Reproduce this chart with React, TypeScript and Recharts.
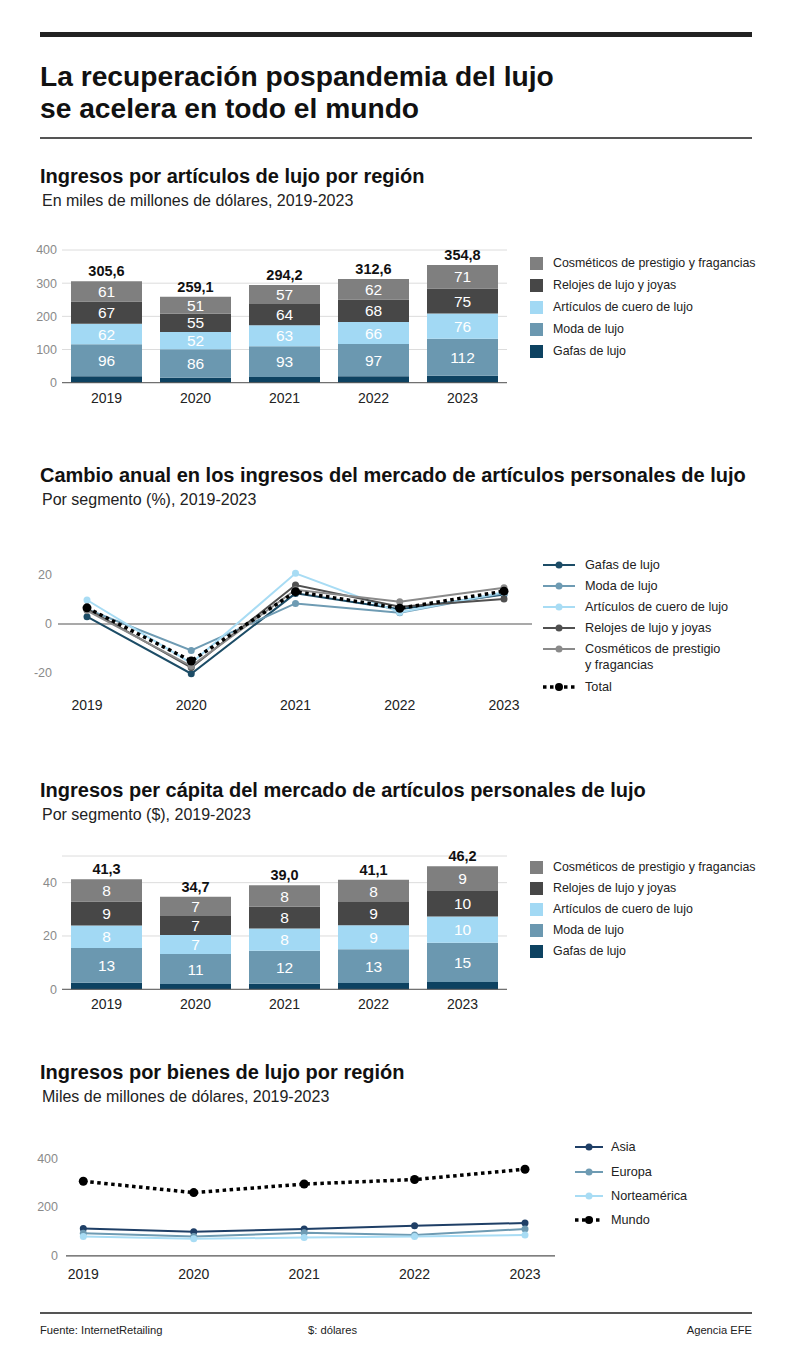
import React from 'react';
import { BarChart, Bar, XAxis, YAxis, CartesianGrid, LabelList, LineChart, Line, ReferenceLine } from 'recharts';

const FONT = "'Liberation Sans Narrow','Arial Narrow','Liberation Sans',Arial,sans-serif";

const years = ['2019', '2020', '2021', '2022', '2023'];

// Chart 1: revenue by segment (billions USD)
const rev1Gafas = [19.6, 15.1, 17.2, 19.6, 20.8];
const rev1Moda = [96, 86, 93, 97, 112];
const rev1Cuero = [62, 52, 63, 66, 76];
const rev1Relojes = [67, 55, 64, 68, 75];
const rev1Cosmeticos = [61, 51, 57, 62, 71];
const rev1Totals = [305.6, 259.1, 294.2, 312.6, 354.8];
const rev1Ticks = [0, 100, 200, 300, 400];

// Chart 2: annual change (%)
const chgGafas = [3, -20.3, 12.5, 6, 12];
const chgModa = [6, -10.8, 8.4, 4.6, 12.5];
const chgCuero = [9.8, -16, 20.7, 4.8, 13];
const chgRelojes = [6.2, -17.8, 15.9, 7, 10.2];
const chgCosmeticos = [5.5, -17.2, 14, 9.1, 14.8];
const chgTotal = [6.6, -15.1, 13.2, 6.4, 13.4];
const chgTicks = [-20, 0, 20];

// Chart 3: per capita revenue ($)
const pcGafas = [2.5, 2.0, 2.1, 2.4, 2.7];
const pcModa = [13.0, 11.2, 12.4, 12.6, 14.8];
const pcCuero = [8.4, 7.2, 8.3, 9.0, 9.8];
const pcRelojes = [9.0, 7.1, 8.2, 8.7, 9.6];
const pcCosmeticos = [8.4, 7.2, 8.0, 8.4, 9.3];
const pcTotals = [41.3, 34.7, 39.0, 41.1, 46.2];
const pcTicks = [0, 20, 40];

// Chart 4: revenue by region
const regAsia = [112, 99, 110, 123, 135];
const regEuropa = [93, 79, 95, 86, 110];
const regNorteamerica = [79, 70, 75, 79, 86];
const regMundo = [305.6, 259.1, 294.2, 312.6, 354.8];
const regTicks = [0, 200, 400];

const segKeys = ['gafas', 'moda', 'cuero', 'relojes', 'cosmeticos'];
const segNames = ['Gafas de lujo', 'Moda de lujo', 'Artículos de cuero de lujo', 'Relojes de lujo y joyas', 'Cosméticos de prestigio y fragancias'];
const segColors = ['#0d4261', '#6b98b0', '#a2d9f4', '#474747', '#7f7f7f'];
const lineSegColors = ['#1c4c66', '#6e9bb3', '#a8dcf4', '#505050', '#8a8a8a'];

const regKeys = ['asia', 'europa', 'norteamerica'];
const regNames = ['Asia', 'Europa', 'Norteamérica'];
const regColors = ['#1f3f66', '#6e9bb3', '#a8dcf4'];

const fmt = (v: number) => v.toFixed(1).replace('.', ',');

const data1 = years.map((y, i) => ({
  year: y,
  gafas: rev1Gafas[i], moda: rev1Moda[i], cuero: rev1Cuero[i], relojes: rev1Relojes[i], cosmeticos: rev1Cosmeticos[i],
  total: rev1Totals[i],
}));
const data2 = years.map((y, i) => ({
  year: y,
  gafas: chgGafas[i], moda: chgModa[i], cuero: chgCuero[i], relojes: chgRelojes[i], cosmeticos: chgCosmeticos[i], total: chgTotal[i],
}));
const data3 = years.map((y, i) => ({
  year: y,
  gafas: pcGafas[i], moda: pcModa[i], cuero: pcCuero[i], relojes: pcRelojes[i], cosmeticos: pcCosmeticos[i],
  total: pcTotals[i],
}));
const data4 = years.map((y, i) => ({
  year: y, asia: regAsia[i], europa: regEuropa[i], norteamerica: regNorteamerica[i], mundo: regMundo[i],
}));

const box = (p: any) => {
  const vb = p.viewBox || {};
  return {
    x: Number(vb.x ?? p.x), y: Number(vb.y ?? p.y),
    w: Number(vb.width ?? p.width), h: Number(vb.height ?? p.height),
  };
};

const InnerLabel = (props: any) => {
  const { x, y, w, h } = box(props);
  const v = Math.round(Number(props.value));
  return (
    <text x={x + w / 2} y={y + h / 2} dy="0.36em" textAnchor="middle" fill="#fff" fontSize={15.5} fontFamily={FONT}>
      {v}
    </text>
  );
};

const TotalLabel = (props: any) => {
  const { x, y, w } = box(props);
  return (
    <text x={x + w / 2} y={y - 5} textAnchor="middle" fill="#111" fontSize={14.5} fontWeight="bold" fontFamily={FONT}>
      {fmt(Number(props.value))}
    </text>
  );
};

const yTick = { fill: '#8a8a8a', fontSize: 12.5, fontFamily: FONT };
const xTick = { fill: '#222', fontSize: 14, fontFamily: FONT };

function StackChart({ data, ticks, domain, height, top, bottom }: any) {
  return (
    <BarChart width={520} height={height} data={data} margin={{ top, right: 13, bottom, left: 0 }} barSize={71}>
      <CartesianGrid vertical={false} stroke="#dcdcdc" />
      <XAxis dataKey="year" tickLine={false} axisLine={{ stroke: '#555' }} tick={xTick} tickSize={6} tickMargin={4} height={30} />
      <YAxis width={62} domain={domain} ticks={ticks} tickLine={false} axisLine={false} tick={yTick} tickSize={3} tickMargin={2} />
      {segKeys.map((k, i) => (
        <Bar key={k} dataKey={k} stackId="s" fill={segColors[i]} isAnimationActive={false}>
          {i > 0 && <LabelList dataKey={k} content={InnerLabel} />}
          {i === segKeys.length - 1 && <LabelList dataKey="total" content={TotalLabel} />}
        </Bar>
      ))}
    </BarChart>
  );
}

const txt = (top: number, fs: number, bold: boolean, text: string, left = 40, extra: any = {}) => (
  <div style={{ position: 'absolute', left, top, fontSize: fs, lineHeight: `${fs}px`, fontWeight: bold ? 'bold' : 'normal', color: bold ? '#111' : '#222', whiteSpace: 'nowrap', ...extra }}>
    {text}
  </div>
);

// baseline-based placement
const tb = (baseline: number, fs: number, bold: boolean, text: string, left = 40, extra: any = {}) =>
  txt(baseline - 0.85 * fs, fs, bold, text, left, extra);

const LEG_FS = 12.4;

function SquareLegend({ left, top, step }: any) {
  const order = [4, 3, 2, 1, 0];
  return (
    <>
      {order.map((idx, r) => (
        <div key={idx} style={{ position: 'absolute', left, top: top + r * step - 7, height: 14, display: 'flex', alignItems: 'center' }}>
          <div style={{ width: 13, height: 13, background: segColors[idx] }} />
          <div style={{ marginLeft: 10, fontSize: LEG_FS, lineHeight: '14px', color: '#222', whiteSpace: 'nowrap' }}>{segNames[idx]}</div>
        </div>
      ))}
    </>
  );
}

function LineLegendItem({ left, cy, color, label, dotted, lineW, textGap }: any) {
  return (
    <div style={{ position: 'absolute', left, top: cy - 8, height: 16, display: 'flex', alignItems: 'flex-start' }}>
      <svg width={lineW} height={16} style={{ display: 'block' }}>
        {dotted ? (
          <>
            <line x1={0} y1={8} x2={lineW} y2={8} stroke="#000" strokeWidth={3.5} strokeDasharray="3.5 3.5" />
            <circle cx={lineW / 2} cy={8} r={4} fill="#000" />
          </>
        ) : (
          <>
            <line x1={0} y1={8} x2={lineW} y2={8} stroke={color} strokeWidth={2} />
            <circle cx={lineW / 2} cy={8} r={3.5} fill={color} />
          </>
        )}
      </svg>
      <div style={{ marginLeft: textGap, fontSize: LEG_FS + 0.3, lineHeight: '16px', color: '#222', whiteSpace: 'pre' }}>{label}</div>
    </div>
  );
}

export default function App() {
  const legend2Rows = [565, 586, 607, 628, 649];
  const legend4Rows = [1147, 1172, 1196, 1220];
  return (
    <div style={{ position: 'absolute', left: 0, top: 0, width: 800, height: 1369, background: '#fff', fontFamily: FONT, overflow: 'hidden' }}>
      <div style={{ position: 'absolute', left: 40, top: 32, width: 712, height: 5, background: '#222' }} />
      <div style={{ position: 'absolute', left: 40, top: 60, fontSize: 28.2, lineHeight: '32px', fontWeight: 'bold', color: '#111' }}>
        La recuperación pospandemia del lujo<br />se acelera en todo el mundo
      </div>
      <div style={{ position: 'absolute', left: 40, top: 137, width: 712, height: 1.5, background: '#555' }} />

      {tb(183, 20, true, 'Ingresos por artículos de lujo por región')}
      {tb(207, 16, false, 'En miles de millones de dólares, 2019-2023', 42)}
      <div style={{ position: 'absolute', left: 0, top: 200 }}>
        <StackChart data={data1} ticks={rev1Ticks} domain={[0, 400]} height={220} top={50} bottom={7.3} />
      </div>
      <SquareLegend left={530} top={263} step={22} />

      {tb(482, 20, true, 'Cambio anual en los ingresos del mercado de artículos personales de lujo')}
      {tb(506, 16, false, 'Por segmento (%), 2019-2023', 42)}
      <div style={{ position: 'absolute', left: 0, top: 530 }}>
        <LineChart width={560} height={200} data={data2} margin={{ top: 25.4, right: 28, bottom: 7.4, left: 0 }}>
          <XAxis dataKey="year" tickLine={false} axisLine={false} tick={xTick} tickSize={4} tickMargin={3} height={30} padding={{ left: 29, right: 28 }} />
          <YAxis width={58} domain={[-28, 28]} ticks={chgTicks} tickLine={false} axisLine={false} tick={yTick} tickSize={3} tickMargin={3} />
          <ReferenceLine y={0} stroke="#555" strokeWidth={1.2} />
          {segKeys.map((k, i) => (
            <Line key={k} dataKey={k} stroke={lineSegColors[i]} strokeWidth={2} isAnimationActive={false}
              dot={{ r: 3.5, fill: lineSegColors[i], stroke: lineSegColors[i], strokeWidth: 0 }} />
          ))}
          <Line dataKey="total" stroke="#000" strokeWidth={3.5} strokeDasharray="3.5 3.5" isAnimationActive={false}
            dot={{ r: 4.5, fill: '#000', stroke: '#000', strokeWidth: 0 }} />
        </LineChart>
      </div>
      {segNames.map((n, i) => (
        <LineLegendItem key={n} left={543} cy={legend2Rows[i]} color={lineSegColors[i]} lineW={32} textGap={10}
          label={i === 4 ? 'Cosméticos de prestigio\ny fragancias' : n} />
      ))}
      <LineLegendItem left={543} cy={687} dotted lineW={32} textGap={10} label="Total" />

      {tb(797, 20, true, 'Ingresos per cápita del mercado de artículos personales de lujo')}
      {tb(821, 16, false, 'Por segmento ($), 2019-2023', 42)}
      <div style={{ position: 'absolute', left: 0, top: 800 }}>
        <StackChart data={data3} ticks={pcTicks} domain={[0, 50]} height={230} top={56} bottom={10.7} />
      </div>
      <SquareLegend left={530} top={867} step={21} />

      {tb(1079, 20, true, 'Ingresos por bienes de lujo por región')}
      {tb(1103, 16, false, 'Miles de millones de dólares, 2019-2023', 42)}
      <div style={{ position: 'absolute', left: 0, top: 1110 }}>
        <LineChart width={580} height={190} data={data4} margin={{ top: 36, right: 25, bottom: 14.1, left: 0 }}>
          <XAxis dataKey="year" tickLine={false} axisLine={{ stroke: '#555', strokeWidth: 1.2 }} tick={xTick} tickSize={5.5} tickMargin={8} height={30} padding={{ left: 17.3, right: 30 }} />
          <YAxis width={66} domain={[0, 450]} ticks={regTicks} tickLine={false} axisLine={false} tick={yTick} tickSize={4} tickMargin={4} />
          {regKeys.map((k, i) => (
            <Line key={k} dataKey={k} stroke={regColors[i]} strokeWidth={2} isAnimationActive={false}
              dot={{ r: 3.5, fill: regColors[i], stroke: regColors[i], strokeWidth: 0 }} />
          ))}
          <Line dataKey="mundo" stroke="#000" strokeWidth={3.5} strokeDasharray="3.5 3.5" isAnimationActive={false}
            dot={{ r: 4.5, fill: '#000', stroke: '#000', strokeWidth: 0 }} />
        </LineChart>
      </div>
      {regNames.map((n, i) => (
        <LineLegendItem key={n} left={575} cy={legend4Rows[i]} color={regColors[i]} lineW={28} textGap={8} label={n} />
      ))}
      <LineLegendItem left={575} cy={legend4Rows[3]} dotted lineW={28} textGap={8} label="Mundo" />

      <div style={{ position: 'absolute', left: 40, top: 1312, width: 712, height: 2, background: '#555' }} />
      {tb(1335, 11.2, false, 'Fuente: InternetRetailing', 40)}
      {tb(1335, 11.2, false, '$: dólares', 308)}
      <div style={{ position: 'absolute', right: 48, top: 1335 - 0.85 * 11.2, fontSize: 11.2, lineHeight: '11.2px', color: '#222' }}>Agencia EFE</div>
    </div>
  );
}
